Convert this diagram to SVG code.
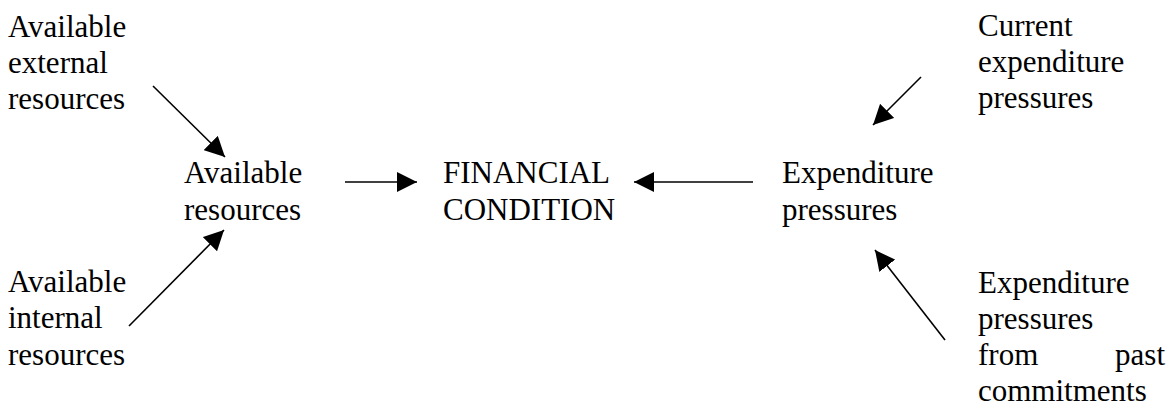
<svg xmlns="http://www.w3.org/2000/svg" width="1167" height="407" viewBox="0 0 1167 407">
<style>
text{font-family:'Liberation Serif','Times New Roman',Times,'DejaVu Serif',serif;font-size:31px;fill:#000}
.c{stroke:#000;stroke-width:1.6;fill:none;marker-end:url(#ah)}
</style>
<defs>
<marker id="ah" markerUnits="userSpaceOnUse" markerWidth="20" markerHeight="20" refX="20" refY="10" orient="auto" viewBox="0 0 20 20">
<path d="M0,0 L20,10 L0,20 z" fill="#000"/>
</marker>
</defs>
<rect width="1167" height="407" fill="#fff"/>
<g id="n-ext" font-family="Liberation Serif, serif"><text x="8" y="37">Available</text><text x="8" y="73">external</text><text x="8" y="109">resources</text></g>
<g id="n-int" font-family="Liberation Serif, serif"><text x="8" y="292">Available</text><text x="8" y="328">internal</text><text x="8" y="365">resources</text></g>
<g id="n-avail" font-family="Liberation Serif, serif"><text x="184" y="183">Available</text><text x="184" y="220">resources</text></g>
<g id="n-fin" font-family="Liberation Serif, serif"><text x="443" y="183">FINANCIAL</text><text x="443" y="220">CONDITION</text></g>
<g id="n-exp" font-family="Liberation Serif, serif"><text x="782" y="183">Expenditure</text><text x="782" y="220">pressures</text></g>
<g id="n-cur" font-family="Liberation Serif, serif"><text x="978" y="36">Current</text><text x="978" y="72">expenditure</text><text x="978" y="108">pressures</text></g>
<g id="n-past" font-family="Liberation Serif, serif"><text x="978" y="293">Expenditure</text><text x="978" y="329">pressures</text><text x="978" y="365">from</text><text x="1165" y="365" text-anchor="end">past</text><text x="978" y="401">commitments</text></g>
<g id="connectors">
<line class="c" x1="153" y1="86" x2="225" y2="157"/>
<line class="c" x1="129" y1="326" x2="224" y2="230"/>
<line class="c" x1="345" y1="182" x2="417" y2="182"/>
<line class="c" x1="753" y1="182" x2="634" y2="182"/>
<line class="c" x1="921" y1="77" x2="873" y2="125"/>
<line class="c" x1="945" y1="340" x2="875" y2="250"/>
</g>
</svg>
